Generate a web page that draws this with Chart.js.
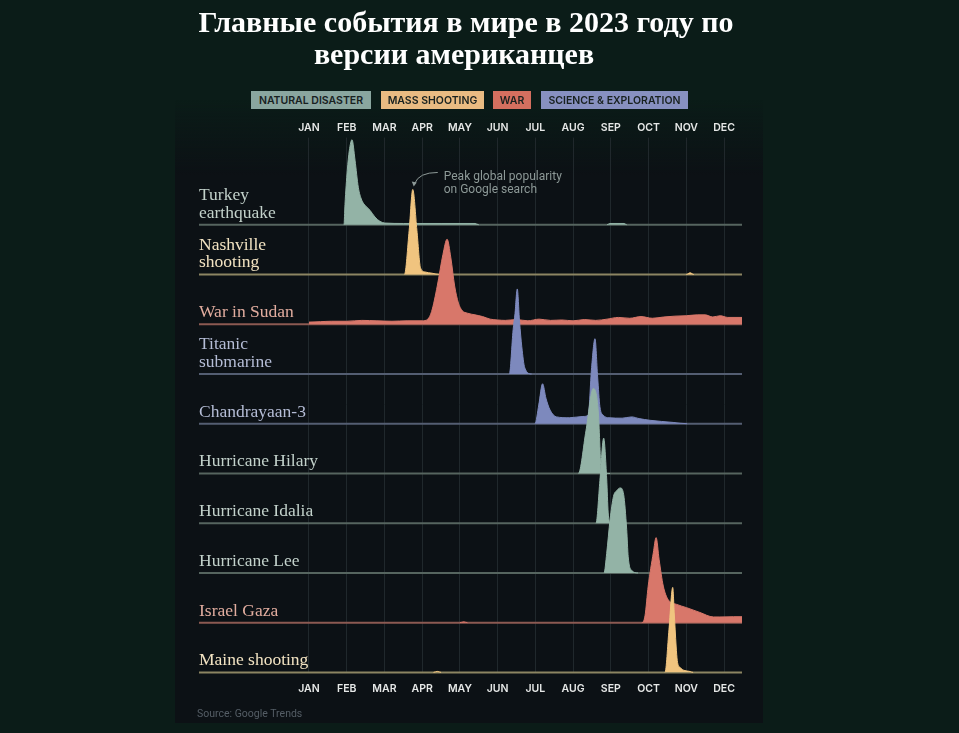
<!DOCTYPE html>
<html><head><meta charset="utf-8">
<script src="https://cdn.jsdelivr.net/npm/chart.js@4"></script>
<style>
html,body{margin:0;padding:0;background:#0b1c18;width:959px;height:733px;overflow:hidden;}
#wrap{position:relative;width:959px;height:733px;}
canvas{position:absolute;left:0;top:0;}
.t{position:absolute;width:700px;text-align:center;font:bold 30px "Liberation Serif",serif;color:#fff;line-height:32px;white-space:nowrap;}
.lg{position:absolute;top:91px;height:18px;display:flex;align-items:center;justify-content:center;font:600 10.5px Inter,sans-serif;color:#18211f;white-space:nowrap;}
.src{position:absolute;left:197px;top:707px;font:10.5px Roboto,sans-serif;color:#555e66;}
</style></head><body><div id="wrap">
<canvas id="c" width="959" height="733"></canvas>
<div class="t" style="left:116px;top:6px">Главные события в мире в 2023 году по</div>
<div class="t" style="left:104px;top:38px">версии американцев</div>
<div id="legend"></div>
<div class="src">Source: Google Trends</div>
</div>
<script>
// ---- data ----
const months = ['JAN','FEB','MAR','APR','MAY','JUN','JUL','AUG','SEP','OCT','NOV','DEC'];
const monthPos = [0,1,2,3,4,5,6,7,8,9,10,11];
const categories = ['NATURAL DISASTER','MASS SHOOTING','WAR','SCIENCE & EXPLORATION'];
const rowNames = [['Turkey','earthquake'],['Nashville','shooting'],['War in Sudan'],['Titanic','submarine'],['Chandrayaan-3'],['Hurricane Hilary'],['Hurricane Idalia'],['Hurricane Lee'],['Israel Gaza'],['Maine shooting']];
const rowCategory = [0,1,2,3,3,0,0,0,2,1];

// [month position, search interest 0-100]
const turkey = [[0,0],[0.9,0],[0.928,0],[0.954,24],[1.015,64],[1.068,87],[1.14,100],[1.22,76],[1.307,44],[1.397,29],[1.484,23],[1.617,17],[1.75,9],[1.88,4],[2.01,2],[2.5,1.5],[3.5,1.5],[4.4,1.5],[4.5,0],[7.9,0],[7.97,1.5],[8.35,1.5],[8.42,0],[11.476,0]];
const nashville = [[0,0],[2.5,0],[2.53,0],[2.655,52],[2.75,100],[2.86,52],[2.955,8],[3.07,3],[3.26,1.5],[3.47,0],[10.0,0],[10.1,2],[10.2,0],[11.476,0]];
const sudan = [[0,2.5],[0.3,3],[0.6,3.5],[1.0,3.5],[1.4,4.5],[1.8,4],[2.2,3.5],[2.6,4],[3.0,4],[3.15,6],[3.25,15],[3.4,45],[3.55,82],[3.66,100],[3.76,78],[3.86,45],[3.96,25],[4.06,16],[4.2,13],[4.4,11],[4.6,9],[4.8,6],[5.0,5],[5.2,4.5],[5.5,5.5],[5.8,4],[6.1,6],[6.4,4.5],[6.7,5],[7.0,4],[7.3,5.5],[7.6,4.5],[7.9,6],[8.2,8],[8.5,7],[8.8,9],[9.1,7],[9.4,8.5],[9.7,9.5],[10.0,10],[10.3,11],[10.5,11],[10.7,8.5],[10.9,10],[11.1,8],[11.476,8]];
const titanic = [[0,0],[5.28,0],[5.31,0],[5.41,52],[5.46,71],[5.52,100],[5.58,62],[5.64,32],[5.72,7],[5.9,0],[11.476,0]];
const chandrayaan = [[0,0],[5.97,0],[5.99,0],[6.09,22],[6.19,47],[6.28,30],[6.39,16],[6.56,8],[6.9,7],[7.26,8.5],[7.4,10],[7.49,66],[7.58,100],[7.65,55],[7.71,20],[7.8,10],[7.95,7],[8.3,6.5],[8.55,8],[8.75,6],[9.04,4],[9.65,1.5],[10.02,0],[11.476,0]];
const hilary = [[0,0],[7.12,0],[7.14,0],[7.34,50],[7.535,100],[7.67,71],[7.71,32],[7.74,4],[7.98,0],[11.476,0]];
const idalia = [[0,0],[7.59,0],[7.607,0],[7.71,50],[7.81,100],[7.89,52],[7.93,12],[7.98,0],[11.476,0]];
const lee = [[0,0],[7.8,0],[7.82,0],[7.89,23],[7.98,63],[8.07,90],[8.16,97],[8.25,100],[8.34,92],[8.42,51],[8.46,19],[8.55,3],[8.72,0],[11.476,0]];
const israel = [[0,0],[4.0,0],[4.1,1],[4.2,0],[8.8,0],[8.82,0],[8.905,8],[8.99,43],[9.125,82],[9.2,100],[9.28,74],[9.39,43],[9.52,27],[9.745,21.5],[10.01,17.6],[10.36,12],[10.72,6.7],[10.89,6.7],[11.25,7],[11.476,7]];
const maine = [[0,0],[3.3,0],[3.4,1.2],[3.5,0],[9.42,0],[9.435,0],[9.54,50],[9.64,100],[9.68,70],[9.73,31],[9.76,14],[9.83,6],[10.1,1],[10.18,0],[11.476,0]];
const series = [turkey, nashville, sudan, titanic, chandrayaan, hilary, idalia, lee, israel, maine];

// ---- styles ----
const catFill = ['#93b3a6','#f0c47f','#d8776a','#7d89bd'];
const catLine = ['#56655f','#8c8562','#8c5a52','#545e72'];
const catLabel = ['#c3d2cb','#f2e3c2','#e2ad9f','#b5bdd6'];
const legendBg = ['#8aa69f','#e9bb82','#d46f5f','#8790c0'];
const legendPos = [[251,120],[381,103],[493,38],[541,147]];

const X_MIN = -2.915, X_MAX = 11.476, ROW = 58.5, Y_MAX = 629;
const N = series.length;

// legend (HTML)
const lg = document.getElementById('legend');
categories.forEach((c,i)=>{
  const d = document.createElement('div');
  d.className = 'lg'; d.textContent = c;
  d.style.left = legendPos[i][0]+'px'; d.style.width = legendPos[i][1]+'px';
  d.style.background = legendBg[i];
  lg.appendChild(d);
});

const datasets = [];
series.forEach((pts,i)=>{
  const off = (N-1-i)*ROW;
  const c = rowCategory[i];
  datasets.push({
    data:[{x:X_MIN,y:off},{x:X_MAX,y:off}],
    borderColor:catLine[c], borderWidth:2, pointRadius:0, fill:false,
    order:100-2*i, clip:false
  });
  datasets.push({
    data: pts.map(p=>({x:p[0], y:off+p[1]})),
    borderColor:catFill[c], backgroundColor:catFill[c], borderWidth:1,
    pointRadius:0, fill:{value:off}, cubicInterpolationMode:'monotone',
    order:99-2*i, clip:false,
    segment:{ borderColor: ctx => (ctx.p0.parsed.y-off<0.05 && ctx.p1.parsed.y-off<0.05) ? 'rgba(0,0,0,0)' : catFill[c] }
  });
});

const panelPlugin = {
  id:'panel',
  beforeDraw(chart){
    const ctx = chart.ctx;
    ctx.save();
    const g = ctx.createLinearGradient(0,100,0,175);
    g.addColorStop(0,'rgba(12,17,21,0)');
    g.addColorStop(1,'rgba(12,17,21,1)');
    ctx.fillStyle = g;
    ctx.fillRect(175,100,588,623);
    ctx.restore();
  }
};

const labelPlugin = {
  id:'rowLabels',
  afterDatasetsDraw(chart){
    const {ctx, chartArea, scales} = chart;
    const x = scales.x, y = scales.y;
    ctx.save();
    ctx.font = '17.5px "Liberation Serif", serif';
    ctx.textAlign = 'left'; ctx.textBaseline = 'alphabetic';
    rowNames.forEach((lines,i)=>{
      const base = y.getPixelForValue((N-1-i)*ROW);
      ctx.fillStyle = catLabel[rowCategory[i]];
      lines.forEach((t,k)=>{
        ctx.fillText(t, chartArea.left, base - 7 - (lines.length-1-k)*17.5);
      });
    });
    // annotation on the Nashville peak
    const px = x.getPixelForValue(2.75);
    const py = y.getPixelForValue((N-2)*ROW + 100);
    ctx.fillStyle = '#8d9997';
    ctx.font = '12px Roboto, sans-serif';
    ctx.fillText('Peak global popularity', px+31, py-9);
    ctx.fillText('on Google search', px+31, py+4);
    ctx.strokeStyle = '#8d9997'; ctx.lineWidth = 1;
    ctx.beginPath();
    ctx.moveTo(px+25, py-17);
    ctx.quadraticCurveTo(px+6, py-17, px+2, py-6);
    ctx.stroke();
    ctx.beginPath();
    ctx.moveTo(px+1, py-3);
    ctx.lineTo(px-1, py-8);
    ctx.lineTo(px+4, py-7);
    ctx.closePath();
    ctx.fillStyle = '#8d9997';
    ctx.fill();
    ctx.restore();
  }
};

const tickFont = {family:'Inter', size:10.5, weight:'600'};
new Chart(document.getElementById('c'), {
  type:'line',
  data:{datasets},
  options:{
    responsive:false, animation:false, events:[],
    layout:{padding:{left:199,right:217,top:119,bottom:28}},
    plugins:{legend:{display:false}, tooltip:{enabled:false}, title:{display:false}},
    scales:{
      x:{type:'linear', position:'bottom', min:X_MIN, max:X_MAX,
        afterBuildTicks:a=>{a.ticks = monthPos.map(v=>({value:v}));},
        ticks:{callback:(v,i)=>months[i], color:'#e6e8e7', font:tickFont, padding:10, autoSkip:false, maxRotation:0},
        grid:{color:'#20282c', lineWidth:1, drawTicks:false}, border:{display:false}},
      x2:{type:'linear', position:'top', min:X_MIN, max:X_MAX,
        afterBuildTicks:a=>{a.ticks = monthPos.map(v=>({value:v}));},
        ticks:{callback:(v,i)=>months[i], color:'#e6e8e7', font:tickFont, padding:3, autoSkip:false, maxRotation:0},
        grid:{display:false, drawTicks:false}, border:{display:false}},
      y:{type:'linear', min:0, max:Y_MAX, display:false}
    }
  },
  plugins:[panelPlugin, labelPlugin]
});
</script>
</body></html>
